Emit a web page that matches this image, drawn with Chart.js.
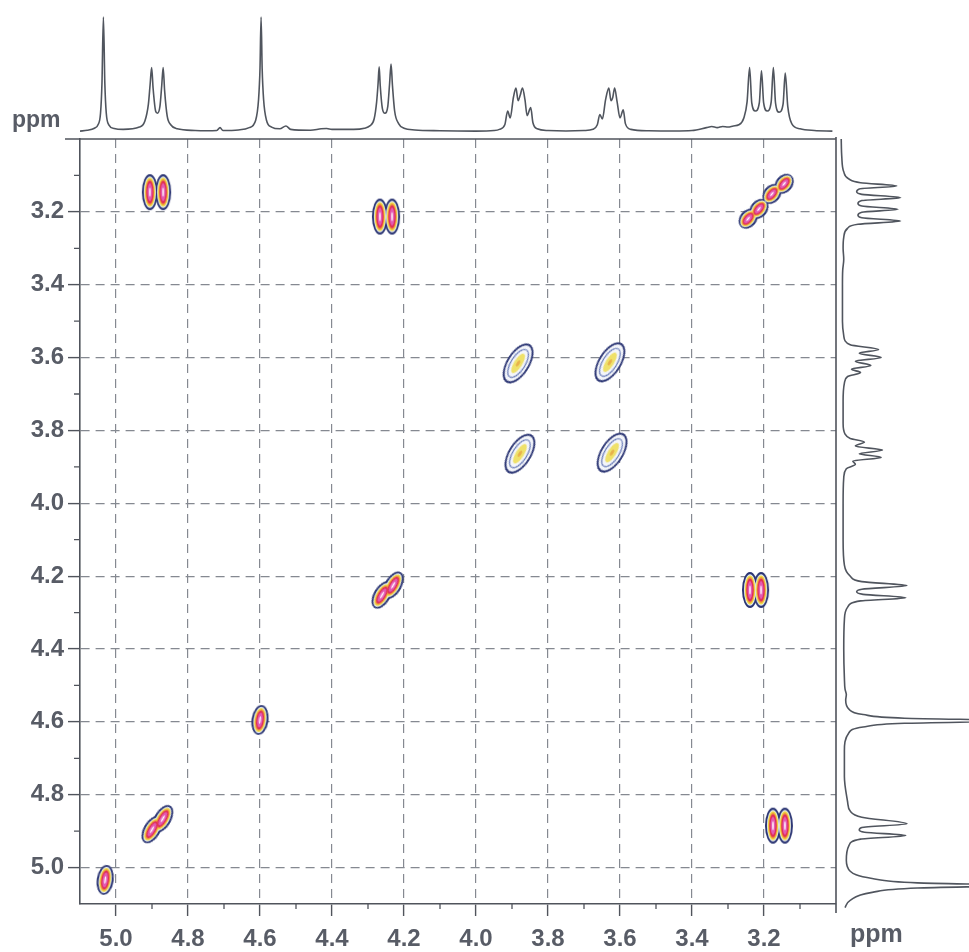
<!DOCTYPE html>
<html>
<head>
<meta charset="utf-8">
<script src="https://cdn.jsdelivr.net/npm/chart.js@4.4.0/dist/chart.umd.min.js"></script>
<style>
html, body { margin: 0; padding: 0; background: #fff; }
#wrap { position: relative; width: 969px; height: 952px; overflow: hidden; }
canvas { position: absolute; }
#main { left: 0; top: 0; }
#top { left: 80px; top: 0; }
#side { left: 836px; top: 139px; }
</style>
</head>
<body>
<div id="wrap">
  <canvas id="main" width="969" height="952"></canvas>
  <canvas id="top" width="756" height="139"></canvas>
  <canvas id="side" width="133" height="774"></canvas>
</div>
<script>
// axis ticks (ppm)
var xTicks = [5.0, 4.8, 4.6, 4.4, 4.2, 4.0, 3.8, 3.6, 3.4, 3.2];
var yTicks = [3.2, 3.4, 3.6, 3.8, 4.0, 4.2, 4.4, 4.6, 4.8, 5.0];
var xMinor = [4.9, 4.7, 4.5, 4.3, 4.1, 3.9, 3.7, 3.5, 3.3, 3.1];
var yMinor = [3.1, 3.3, 3.5, 3.7, 3.9, 4.1, 4.3, 4.5, 4.7, 4.9];

// 1D spectrum on top: [ppm, intensity]
var topTrace = [
  [5.10, 0.005], [5.08, 0.012], [5.06, 0.03], [5.05, 0.06], [5.043, 0.16], [5.039, 0.42],
  [5.035, 1.0], [5.031, 0.42], [5.027, 0.16], [5.02, 0.06], [5.005, 0.028], [4.98, 0.02],
  [4.935, 0.04], [4.92, 0.09], [4.91, 0.24], [4.905, 0.42], [4.901, 0.56], [4.897, 0.38],
  [4.890, 0.18], [4.885, 0.16], [4.878, 0.22], [4.873, 0.40], [4.869, 0.56], [4.865, 0.36],
  [4.858, 0.14], [4.848, 0.06], [4.83, 0.025], [4.78, 0.01], [4.75, 0.008], [4.72, 0.01],
  [4.711, 0.035], [4.703, 0.01], [4.66, 0.015], [4.63, 0.035], [4.612, 0.1], [4.604, 0.28],
  [4.600, 0.55], [4.597, 1.0], [4.594, 0.55], [4.590, 0.28], [4.582, 0.1], [4.568, 0.04],
  [4.545, 0.025], [4.528, 0.05], [4.515, 0.02], [4.46, 0.012], [4.43, 0.025], [4.415, 0.028],
  [4.40, 0.02], [4.34, 0.02], [4.31, 0.03], [4.295, 0.05], [4.283, 0.11], [4.276, 0.26],
  [4.272, 0.42], [4.269, 0.565], [4.266, 0.4], [4.260, 0.2], [4.253, 0.16], [4.245, 0.22],
  [4.240, 0.42], [4.236, 0.59], [4.232, 0.4], [4.226, 0.18], [4.215, 0.07], [4.20, 0.03],
  [4.17, 0.015], [4.10, 0.008], [4.00, 0.005], [3.95, 0.01], [3.935, 0.02], [3.92, 0.06],
  [3.912, 0.18], [3.905, 0.12], [3.896, 0.3], [3.889, 0.38], [3.883, 0.27], [3.877, 0.32],
  [3.871, 0.38], [3.864, 0.28], [3.858, 0.14], [3.848, 0.21], [3.842, 0.08], [3.83, 0.025],
  [3.80, 0.01], [3.75, 0.006], [3.70, 0.01], [3.675, 0.02], [3.663, 0.06], [3.656, 0.15],
  [3.649, 0.11], [3.640, 0.28], [3.631, 0.38], [3.625, 0.27], [3.620, 0.30], [3.615, 0.38],
  [3.608, 0.26], [3.600, 0.12], [3.591, 0.19], [3.585, 0.07], [3.57, 0.02], [3.52, 0.008],
  [3.45, 0.006], [3.40, 0.01], [3.36, 0.035], [3.345, 0.045], [3.33, 0.035], [3.315, 0.045],
  [3.30, 0.04], [3.285, 0.05], [3.27, 0.06], [3.256, 0.12], [3.247, 0.26], [3.240, 0.56],
  [3.234, 0.25], [3.224, 0.18], [3.213, 0.25], [3.207, 0.53], [3.201, 0.25], [3.191, 0.18],
  [3.180, 0.26], [3.174, 0.56], [3.168, 0.25], [3.158, 0.17], [3.147, 0.24], [3.141, 0.51],
  [3.134, 0.22], [3.123, 0.07], [3.10, 0.025], [3.06, 0.01], [3.01, 0.005]
];

// 1D spectrum on the right: [ppm, intensity]
var sideTrace = [
  [2.995, 0.01], [3.05, 0.015], [3.09, 0.03], [3.11, 0.07], [3.12, 0.16], [3.129, 0.44],
  [3.137, 0.15], [3.145, 0.13], [3.152, 0.17], [3.161, 0.47], [3.169, 0.17], [3.177, 0.14],
  [3.184, 0.17], [3.193, 0.45], [3.201, 0.17], [3.209, 0.14], [3.216, 0.17], [3.225, 0.47],
  [3.234, 0.14], [3.245, 0.06], [3.27, 0.03], [3.30, 0.025], [3.33, 0.03], [3.36, 0.022],
  [3.40, 0.02], [3.45, 0.02], [3.50, 0.02], [3.54, 0.03], [3.565, 0.08], [3.578, 0.30],
  [3.588, 0.15], [3.600, 0.32], [3.610, 0.12], [3.622, 0.24], [3.632, 0.09], [3.641, 0.16],
  [3.652, 0.06], [3.67, 0.035], [3.72, 0.025], [3.78, 0.025], [3.81, 0.04], [3.822, 0.08],
  [3.832, 0.19], [3.843, 0.12], [3.854, 0.33], [3.864, 0.15], [3.874, 0.32], [3.884, 0.1],
  [3.893, 0.12], [3.905, 0.05], [3.93, 0.03], [4.00, 0.025], [4.10, 0.025], [4.17, 0.035],
  [4.20, 0.08], [4.215, 0.17], [4.226, 0.52], [4.236, 0.17], [4.243, 0.13], [4.250, 0.18],
  [4.259, 0.51], [4.268, 0.16], [4.285, 0.06], [4.32, 0.035], [4.40, 0.03], [4.48, 0.035],
  [4.51, 0.04], [4.525, 0.05], [4.54, 0.045], [4.565, 0.07], [4.58, 0.18], [4.59, 0.5],
  [4.597, 1.4], [4.604, 0.5], [4.614, 0.18], [4.63, 0.07], [4.68, 0.035], [4.75, 0.035],
  [4.82, 0.06], [4.845, 0.08], [4.862, 0.17], [4.880, 0.52], [4.890, 0.17], [4.897, 0.15],
  [4.903, 0.19], [4.912, 0.51], [4.922, 0.16], [4.94, 0.07], [4.98, 0.05], [5.01, 0.08],
  [5.03, 0.25], [5.042, 0.6], [5.049, 1.4], [5.056, 0.6], [5.068, 0.25], [5.09, 0.08],
  [5.11, 0.04], [5.12, 0.03]
];

// 2D cross peaks: [x ppm, y ppm]
var crossPairPeaks = [[4.906, 3.146], [4.869, 3.146], [4.267, 3.213], [4.233, 3.213],
  [3.239, 4.238], [3.208, 4.238], [3.175, 4.885], [3.142, 4.885]];
var quartetDiagPeaks = [[3.244, 3.219], [3.214, 3.192], [3.178, 3.151], [3.144, 3.123]];
var pairDiagPeaks = [[4.261, 4.252], [4.230, 4.225], [4.900, 4.896], [4.870, 4.866]];
var singleDiagPeaks = [[4.600, 4.595], [5.030, 5.034]];
var weakPeaks = [[3.883, 3.616], [3.628, 3.613], [3.878, 3.864], [3.622, 3.861]];

var axisColor = '#50545c';
var gridColor = '#858991';
var labelColor = '#585c66';
var traceColor = '#50555e';

Chart.defaults.font.family = "'Liberation Sans', Arial, sans-serif";

var strongLevels = [
  {color: '#2c3674', sx: 1.0, sy: 1.0},
  {color: '#e4eaf4', sx: 0.76, sy: 0.88},
  {color: '#f2dc45', sx: 0.66, sy: 0.8},
  {color: '#ee9a3a', sx: 0.54, sy: 0.72},
  {color: '#df2f58', sx: 0.46, sy: 0.64},
  {color: '#e45ab4', sx: 0.3, sy: 0.5},
  {color: '#fff4fa', sx: 0.1, sy: 0.25}
];
var weakLevels = [
  {color: '#2c3674', sx: 1.0, sy: 1.0},
  {color: '#f3f5fa', sx: 0.84, sy: 0.9},
  {color: '#6a7cb8', sx: 0.62, sy: 0.7, stroke: 1.2},
  {color: '#efe16a', sx: 0.36, sy: 0.5},
  {color: '#e8b04a', sx: 0.12, sy: 0.16}
];

function blobImage(w, h, lv) {
  var c = document.createElement('canvas');
  c.width = Math.ceil(w) + 4;
  c.height = Math.ceil(h) + 4;
  var g = c.getContext('2d');
  g.beginPath();
  g.ellipse(c.width / 2, c.height / 2, w * lv.sx / 2, h * lv.sy / 2, 0, 0, Math.PI * 2);
  if (lv.stroke) {
    g.strokeStyle = lv.color; g.lineWidth = lv.stroke; g.stroke();
  } else {
    g.fillStyle = lv.color; g.fill();
  }
  return c;
}

var peakGroups = [
  {peaks: crossPairPeaks, w: 16, h: 36, rot: 0, levels: strongLevels},
  {peaks: quartetDiagPeaks, w: 17, h: 22, rot: 40, levels: strongLevels},
  {peaks: pairDiagPeaks, w: 17, h: 30, rot: 30, levels: strongLevels},
  {peaks: singleDiagPeaks, w: 17, h: 30, rot: 8, levels: strongLevels},
  {peaks: weakPeaks, w: 23, h: 45, rot: 32, levels: weakLevels}
];

var blobDatasets = [];
peakGroups.forEach(function (grp) {
  grp.levels.forEach(function (lv, i) {
    blobDatasets.push({
      data: grp.peaks.map(function (p) { return {x: p[0], y: p[1]}; }),
      pointStyle: blobImage(grp.w, grp.h, lv),
      pointRadius: 3,
      pointRotation: grp.rot,
      order: 20 - i
    });
  });
});

var framePlugin = {
  id: 'frame',
  afterDraw: function (chart) {
    var ctx = chart.ctx, a = chart.chartArea;
    var x = chart.scales.x, y = chart.scales.y;
    ctx.save();
    ctx.strokeStyle = axisColor;
    ctx.lineWidth = 1.6;
    ctx.beginPath();
    ctx.moveTo(a.left - 15, a.top);
    ctx.lineTo(a.right, a.top);
    ctx.moveTo(a.right, a.top - 2);
    ctx.lineTo(a.right, a.bottom + 9);
    ctx.stroke();
    ctx.lineWidth = 1.3;
    ctx.beginPath();
    xMinor.forEach(function (v) {
      var px = x.getPixelForValue(v);
      ctx.moveTo(px, a.bottom); ctx.lineTo(px, a.bottom + 5);
    });
    yMinor.forEach(function (v) {
      var py = y.getPixelForValue(v);
      ctx.moveTo(a.left, py); ctx.lineTo(a.left - 6, py);
    });
    ctx.stroke();
    ctx.fillStyle = labelColor;
    ctx.font = "bold 23px 'Liberation Sans', Arial, sans-serif";
    ctx.textBaseline = 'alphabetic';
    ctx.fillText('ppm', 12, 127);
    ctx.font = "bold 25px 'Liberation Sans', Arial, sans-serif";
    ctx.fillText('ppm', 850, 942);
    ctx.restore();
  }
};

function axisOpts(ticks, isX) {
  return {
    type: 'linear', reverse: true, min: 3.0, max: 5.1,
    afterBuildTicks: function (s) { s.ticks = ticks.map(function (v) { return {value: v}; }); },
    afterFit: function (s) { if (isX) s.height = 48; else s.width = 80; },
    ticks: {
      color: labelColor, font: {size: 24, weight: 'bold'}, padding: isX ? 9 : 4,
      autoSkip: false, maxRotation: 0,
      callback: function (v) { return v.toFixed(1); }
    },
    grid: {color: gridColor, lineWidth: 1.2, tickLength: 12, tickColor: axisColor, tickWidth: 1.4},
    border: {color: axisColor, width: 1.6, dash: [9, 6]}
  };
}

new Chart(document.getElementById('main'), {
  type: 'scatter',
  data: {datasets: blobDatasets},
  options: {
    responsive: false, animation: false, events: [],
    layout: {padding: {top: 139, right: 133, left: 0, bottom: 0}},
    plugins: {legend: {display: false}, tooltip: {enabled: false}},
    scales: {x: axisOpts(xTicks, true), y: axisOpts(yTicks, false)}
  },
  plugins: [framePlugin]
});

new Chart(document.getElementById('top'), {
  type: 'line',
  data: {datasets: [{
    data: topTrace.map(function (p) { return {x: p[0], y: p[1]}; }),
    borderColor: traceColor, borderWidth: 1.6, pointRadius: 0,
    cubicInterpolationMode: 'monotone', fill: false
  }]},
  options: {
    responsive: false, animation: false, events: [],
    layout: {padding: 0},
    plugins: {legend: {display: false}, tooltip: {enabled: false}},
    scales: {
      x: {type: 'linear', reverse: true, min: 3.0, max: 5.1, display: false},
      y: {type: 'linear', min: -0.064, max: 1.148, display: false}
    }
  }
});

new Chart(document.getElementById('side'), {
  type: 'line',
  data: {datasets: [{
    data: sideTrace.map(function (p) { return {x: p[1], y: p[0]}; }),
    borderColor: traceColor, borderWidth: 1.6, pointRadius: 0,
    cubicInterpolationMode: 'monotone', fill: false, clip: false
  }]},
  options: {
    responsive: false, animation: false, events: [], indexAxis: 'y',
    layout: {padding: {top: 0, left: 0, right: 0, bottom: 9}},
    plugins: {legend: {display: false}, tooltip: {enabled: false}},
    scales: {
      x: {type: 'linear', min: -0.03, max: 1.0, display: false},
      y: {type: 'linear', reverse: true, min: 3.0, max: 5.1, display: false}
    }
  }
});
</script>
</body>
</html>
